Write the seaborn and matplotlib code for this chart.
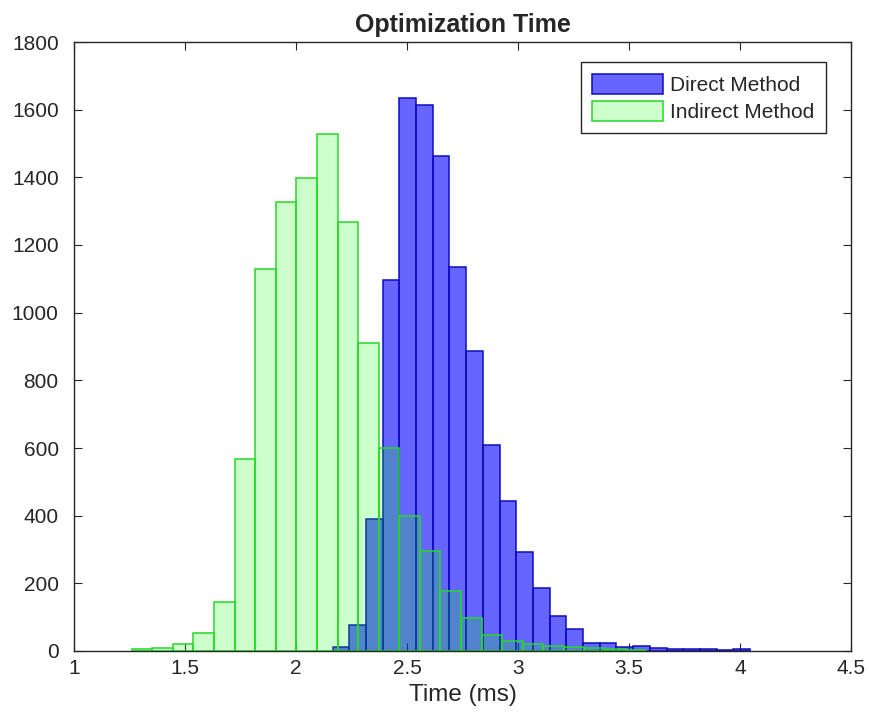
import matplotlib
matplotlib.use('Agg')
import matplotlib.pyplot as plt
import numpy as np
import pandas as pd
import seaborn as sns

sns.set_theme(style='white')
plt.rcParams['font.family'] = ['Liberation Sans', 'DejaVu Sans']

# ---- data ----
# Direct Method: 25 bins
direct_start = 2.165
direct_width = 0.0752
direct_counts = [13, 77, 389, 1097, 1635, 1615, 1463, 1135, 887, 608,
                 443, 292, 186, 103, 65, 23, 23, 12, 15, 9,
                 5, 5, 5, 2, 7]

# Indirect Method: 25 bins
indirect_start = 1.260
indirect_width = 0.0927
indirect_counts = [6, 10, 22, 52, 146, 568, 1128, 1327, 1398, 1527,
                   1268, 910, 600, 400, 296, 178, 97, 46, 30, 22,
                   15, 12, 10, 6, 3]

series_labels = ['Direct Method', 'Indirect Method']
x_ticks = [1, 1.5, 2, 2.5, 3, 3.5, 4, 4.5]
y_ticks = [0, 200, 400, 600, 800, 1000, 1200, 1400, 1600, 1800]


def bins_of(start, width, counts):
    edges = start + width * np.arange(len(counts) + 1)
    df = pd.DataFrame({'t': (edges[:-1] + edges[1:]) / 2, 'n': counts})
    return list(edges), df


fig = plt.figure(figsize=(8.69, 7.23), dpi=100)
ax = fig.add_axes([74 / 869, 1 - 651 / 723, 777 / 869, 609 / 723])

d_edges, d_df = bins_of(direct_start, direct_width, direct_counts)
i_edges, i_df = bins_of(indirect_start, indirect_width, indirect_counts)

sns.histplot(data=d_df, x='t', weights='n', bins=d_edges, ax=ax,
             facecolor=(0, 0, 1, 0.6), edgecolor=(0.05, 0.05, 0.75, 1),
             linewidth=1.1, label=series_labels[0])
sns.histplot(data=i_df, x='t', weights='n', bins=i_edges, ax=ax,
             facecolor=(0, 1, 0, 0.2), edgecolor=(0.15, 0.85, 0.15, 1),
             linewidth=1.1, label=series_labels[1])

ax.set_xlim(1, 4.5)
ax.set_ylim(0, 1800)
ax.set_xticks(x_ticks)
ax.set_xticklabels([f'{t:g}' for t in x_ticks])
ax.set_yticks(y_ticks)
ax.set_xlabel('Time (ms)', fontsize=17.5, color='#262626', labelpad=4)
ax.set_ylabel('')
ax.set_title('Optimization Time', fontsize=18, fontweight='bold', pad=7)

for s in ax.spines.values():
    s.set_color('#262626')
    s.set_linewidth(1.0)
    s.set_visible(True)

ax.tick_params(axis='both', which='major', direction='in', length=6, width=0.8,
               color='#262626', labelsize=15, labelcolor='#262626',
               top=True, right=True, bottom=True, left=True)
ax.tick_params(axis='y', pad=11)
ax.tick_params(axis='x', pad=6)

leg = ax.legend(loc='upper right', bbox_to_anchor=(0.968, 0.967),
                borderaxespad=0, fontsize=15, fancybox=False, framealpha=1,
                edgecolor='#262626', handlelength=3.4, handleheight=1.1,
                handletextpad=0.35, labelspacing=0.3, borderpad=0.55)
leg.get_frame().set_linewidth(1.0)

fig.savefig('out.png', dpi=100)
